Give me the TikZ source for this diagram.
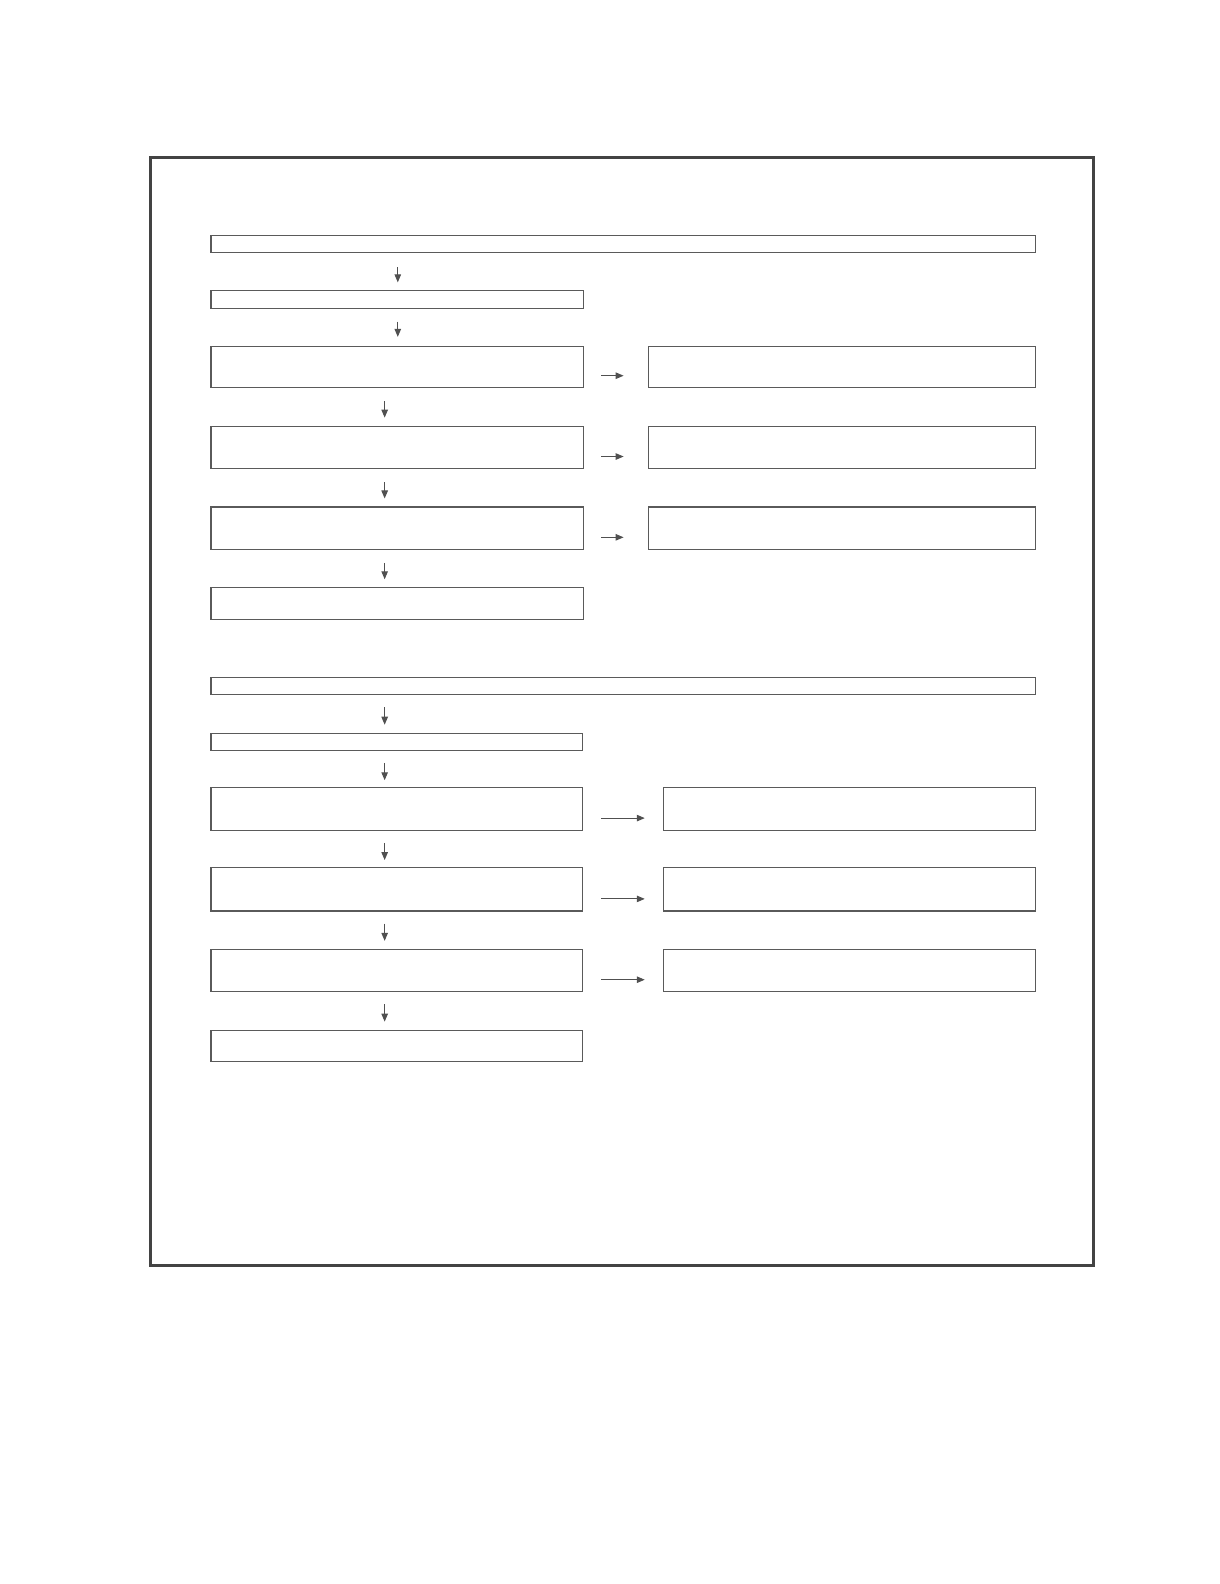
\documentclass[tikz,border=0pt]{standalone}
\usetikzlibrary{arrows.meta,fit}
\definecolor{boxc}{HTML}{5A5A5A}
\definecolor{framec}{HTML}{434343}
\definecolor{arrc}{HTML}{505050}
\tikzset{
  box/.style={draw=boxc, line width=1.1pt, inner sep=0pt, rectangle},
  frame/.style={draw=framec, line width=2.2pt, inner sep=0pt, rectangle},
  arr/.style={draw=arrc, line width=1pt, -{Triangle[length=8pt,width=6.5pt]}},
}
\begin{document}
\begin{tikzpicture}[x=1.0096pt, y=-1.01pt]
\useasboundingbox[fill=white] (0pt,0pt) rectangle (1219pt,-1584pt);
% outer frame
\node[frame, fit={(149,156) (1083,1253)}] (F) {};
% ---- section 1
\node[box, fit={(209,233) (1026,250)}] (W1) {};
\node[box, fit={(209,288) (578,305)}] (B1) {};
\node[box, fit={(209,343) (578,384)}] (L1) {};
\node[box, fit={(642,343) (1026,384)}] (R1) {};
\node[box, fit={(209,422) (578,464)}] (L2) {};
\node[box, fit={(642,422) (1026,464)}] (R2) {};
\node[box, fit={(209,502) (578,544)}] (L3) {};
\node[box, fit={(642,502) (1026,544)}] (R3) {};
\node[box, fit={(209,582) (578,613)}] (L4) {};
% ---- section 2
\node[box, fit={(209,671) (1026,688)}] (W2) {};
\node[box, fit={(209,726) (577,743)}] (B2) {};
\node[box, fit={(209,780) (577,822)}] (L5) {};
\node[box, fit={(657,780) (1026,822)}] (R5) {};
\node[box, fit={(209,859) (577,902)}] (L6) {};
\node[box, fit={(657,859) (1026,902)}] (R6) {};
\node[box, fit={(209,940) (577,982)}] (L7) {};
\node[box, fit={(657,940) (1026,982)}] (R7) {};
\node[box, fit={(209,1020) (577,1051)}] (L8) {};
% arrow columns / rows
\coordinate (ca) at (394,0);
\coordinate (cb) at (381,0);
% vertical arrows, section 1
\draw[arr, shorten <=14pt, shorten >=8pt] (W1.south -| ca) -- (B1.north -| ca);
\draw[arr, shorten <=13pt, shorten >=9pt] (B1.south -| ca) -- (L1.north -| ca);
\draw[arr, shorten <=13pt, shorten >=8pt] (L1.south -| cb) -- (L2.north -| cb);
\draw[arr, shorten <=13pt, shorten >=8pt] (L2.south -| cb) -- (L3.north -| cb);
\draw[arr, shorten <=13pt, shorten >=8pt] (L3.south -| cb) -- (L4.north -| cb);
% horizontal arrows, section 1
\coordinate (h1) at (0,372);
\coordinate (h2) at (0,452);
\coordinate (h3) at (0,532);
\draw[arr, shorten <=17pt, shorten >=24pt] (L1.east |- h1) -- (R1.west |- h1);
\draw[arr, shorten <=17pt, shorten >=24pt] (L2.east |- h2) -- (R2.west |- h2);
\draw[arr, shorten <=17pt, shorten >=24pt] (L3.east |- h3) -- (R3.west |- h3);
% vertical arrows, section 2
\draw[arr, shorten <=12pt, shorten >=8pt] (W2.south -| cb) -- (B2.north -| cb);
\draw[arr, shorten <=12pt, shorten >=7pt] (B2.south -| cb) -- (L5.north -| cb);
\draw[arr, shorten <=12pt, shorten >=7pt] (L5.south -| cb) -- (L6.north -| cb);
\draw[arr, shorten <=12pt, shorten >=8pt] (L6.south -| cb) -- (L7.north -| cb);
\draw[arr, shorten <=12pt, shorten >=8pt] (L7.south -| cb) -- (L8.north -| cb);
% horizontal arrows, section 2
\coordinate (h5) at (0,810);
\coordinate (h6) at (0,890);
\coordinate (h7) at (0,970);
\draw[arr, shorten <=18pt, shorten >=18pt] (L5.east |- h5) -- (R5.west |- h5);
\draw[arr, shorten <=18pt, shorten >=18pt] (L6.east |- h6) -- (R6.west |- h6);
\draw[arr, shorten <=18pt, shorten >=18pt] (L7.east |- h7) -- (R7.west |- h7);
\end{tikzpicture}
\end{document}
